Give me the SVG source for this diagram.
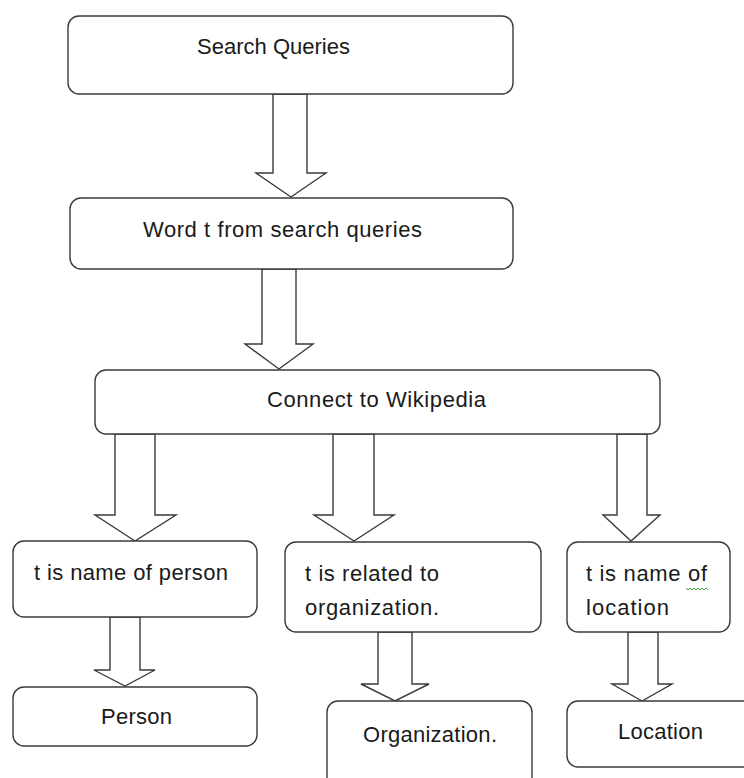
<svg xmlns="http://www.w3.org/2000/svg" width="744" height="778" viewBox="0 0 744 778">
<style>
.box{fill:#fff;stroke:#3a3a3a;stroke-width:1.4}
.arr{fill:#fff;stroke:#3a3a3a;stroke-width:1.4;stroke-linejoin:miter}
.t{font-family:"Liberation Sans",Arial,sans-serif;font-size:22px;fill:#1a1a1a}
</style>
<rect width="744" height="778" fill="#fff"/>
<g id="connectors">
<polygon class="arr" points="273,94 273,173 256,173 291,197 326,173 307,173 307,94"/>
<polygon class="arr" points="262,269 262,344 245,344 279,369 313,344 296,344 296,269"/>
<polygon class="arr" points="115,434 115,515 95,515 135,541 176,515 155,515 155,434"/>
<polygon class="arr" points="333,434 333,515 314,515 354,541 394,515 374,515 374,434"/>
<polygon class="arr" points="617,434 617,515 603,515 631,541 660,515 647,515 647,434"/>
<polygon class="arr" points="110,617 110,670 94,670 125,686 155,670 140,670 140,617"/>
<polygon class="arr" points="378,632 378,684 361,684 395,701 429,684 412,684 412,632"/>
<polygon class="arr" points="628,632 628,684 612,684 642,701 672,684 658,684 658,632"/>
</g>
<g id="search-queries">
<rect class="box" x="68" y="16" width="445" height="78" rx="11"/>
<text class="t" x="197" y="54" textLength="153">Search Queries</text>
</g>
<g id="word-t">
<rect class="box" x="70" y="198" width="443" height="71" rx="11"/>
<text class="t" x="143" y="237" textLength="279">Word t from search queries</text>
</g>
<g id="connect-wikipedia">
<rect class="box" x="95" y="370" width="565" height="64" rx="11"/>
<text class="t" x="267" y="407" textLength="219">Connect to Wikipedia</text>
</g>
<g id="name-person">
<rect class="box" x="13" y="541" width="244" height="76" rx="11"/>
<text class="t" x="34" y="580" textLength="194">t is name of person</text>
</g>
<g id="related-organization">
<rect class="box" x="285" y="542" width="256" height="90" rx="11"/>
<text class="t" x="305" y="581" textLength="134">t is related to</text>
<text class="t" x="305" y="615" textLength="134">organization.</text>
</g>
<g id="name-location">
<rect class="box" x="567" y="542" width="163" height="90" rx="11"/>
<text class="t" x="586" y="581" textLength="121">t is name of</text>
<text class="t" x="586" y="615" textLength="83">location</text>
<path d="M686,588 l2,2 l2,-2 l2,2 l2,-2 l2,2 l2,-2 l2,2 l2,-2 l2,2 l2,-2 l2,2" fill="none" stroke="#3aa23a" stroke-width="1"/>
</g>
<g id="person">
<rect class="box" x="13" y="687" width="244" height="59" rx="11"/>
<text class="t" x="101" y="724" textLength="71">Person</text>
</g>
<g id="organization">
<rect class="box" x="327" y="701" width="205" height="95" rx="11"/>
<text class="t" x="363" y="742" textLength="134">Organization.</text>
</g>
<g id="location">
<rect class="box" x="567" y="701" width="190" height="66" rx="11"/>
<text class="t" x="618" y="739" textLength="85">Location</text>
</g>
</svg>
